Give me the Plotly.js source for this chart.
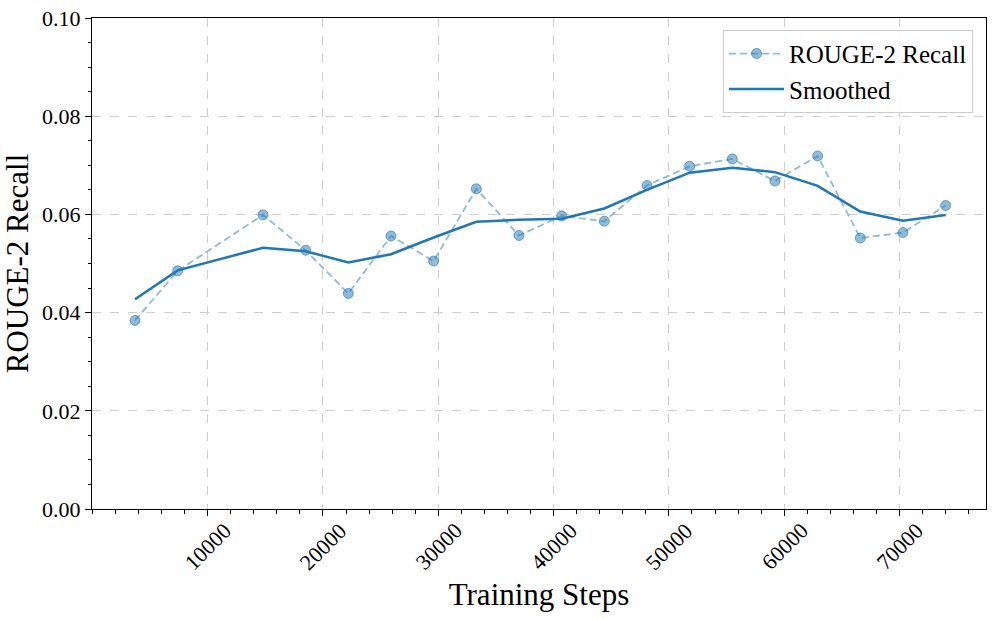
<!DOCTYPE html>
<html>
<head>
<meta charset="utf-8">
<script src="https://cdn.plot.ly/plotly-3.0.1.min.js"></script>
<style>
  html, body { margin: 0; padding: 0; background: #fff; }
  #chart { width: 996px; height: 619px; }
</style>
</head>
<body>
<div id="chart"></div>
<script>
// ---- data ----
const steps = [3700, 7400, 14800, 18500, 22200, 25900, 29600, 33300, 37000, 40700,
               44400, 48100, 51800, 55500, 59200, 62900, 66600, 70300, 74000];
const rougeRecall = [0.0384, 0.0485, 0.0599, 0.0527, 0.0439, 0.0556, 0.0505, 0.0652, 0.0557, 0.0597,
                     0.0586, 0.0659, 0.0698, 0.0713, 0.0668, 0.0719, 0.0552, 0.0563, 0.0618];
const smoothed = [0.0427, 0.0486, 0.0532, 0.0525, 0.0502, 0.0519, 0.0553, 0.0585, 0.0589, 0.0591,
                  0.0612, 0.0650, 0.0685, 0.0695, 0.0686, 0.0658, 0.0606, 0.0587, 0.0599];
const xTickVals = [10000, 20000, 30000, 40000, 50000, 60000, 70000];
const xTickText = ["10000", "20000", "30000", "40000", "50000", "60000", "70000"];
const yTickVals = [0, 0.02, 0.04, 0.06, 0.08, 0.10];
const yTickText = ["0.00", "0.02", "0.04", "0.06", "0.08", "0.10"];

const BLUE = "#1f77b4";
const FONT = "'Liberation Serif', 'Times New Roman', Times, serif";

const traces = [
  {
    x: steps, y: rougeRecall, name: "ROUGE-2 Recall",
    type: "scatter", mode: "lines+markers",
    line: { color: "rgba(31,119,180,0.5)", width: 1.8, dash: "7px,4px" },
    marker: { color: "rgba(31,119,180,0.5)", size: 10,
              line: { color: "rgba(31,119,180,0.6)", width: 1 } }
  },
  {
    x: steps, y: smoothed, name: "Smoothed",
    type: "scatter", mode: "lines",
    line: { color: BLUE, width: 2.5 }
  }
];

const tickAnnotations = xTickVals.map((v, i) => ({
  x: v, xref: "x", y: 0, yref: "paper",
  text: xTickText[i], showarrow: false, textangle: -45,
  xanchor: "center", yanchor: "middle", yshift: -37,
  font: { family: FONT, size: 22, color: "#000" }
}));

const layout = {
  width: 996, height: 619,
  margin: { l: 92, r: 10, t: 18, b: 110 },
  paper_bgcolor: "#fff", plot_bgcolor: "#fff",
  font: { family: FONT, size: 22, color: "#000" },
  showlegend: true,
  legend: {
    x: 0.9855, xanchor: "right", y: 0.976, yanchor: "top",
    bgcolor: "rgba(255,255,255,0.9)", bordercolor: "#cccccc", borderwidth: 1,
    font: { family: FONT, size: 25, color: "#000" },
    itemwidth: 55,
    tracegroupgap: 0
  },
  xaxis: {
    range: [-30, 77500],
    tickmode: "array", tickvals: xTickVals, ticktext: xTickText,
    showticklabels: false,
    ticks: "outside", ticklen: 6, tickwidth: 1, tickcolor: "#000",
    minor: { dtick: 2000, tick0: 0, ticks: "outside", ticklen: 3.5, tickcolor: "#000", showgrid: false },
    showline: true, linecolor: "#000", linewidth: 1, mirror: true,
    showgrid: true, gridcolor: "#cfcfcf", griddash: "dash", gridwidth: 1,
    zeroline: false,
    title: { text: "Training Steps", font: { family: FONT, size: 31, color: "#000" }, standoff: 68 }
  },
  yaxis: {
    range: [0, 0.1],
    tickmode: "array", tickvals: yTickVals, ticktext: yTickText,
    ticks: "outside", ticklen: 6, tickwidth: 1, tickcolor: "#000",
    tickfont: { family: FONT, size: 22, color: "#000" },
    minor: { dtick: 0.005, tick0: 0, ticks: "outside", ticklen: 3.5, tickcolor: "#000", showgrid: false },
    showline: true, linecolor: "#000", linewidth: 1, mirror: true,
    showgrid: true, gridcolor: "#cfcfcf", griddash: "dash", gridwidth: 1,
    zeroline: false,
    title: { text: "ROUGE-2 Recall", font: { family: FONT, size: 31, color: "#000" }, standoff: 8 }
  },
  annotations: tickAnnotations
};

Plotly.newPlot("chart", traces, layout, { displayModeBar: false, staticPlot: true });
</script>
</body>
</html>
